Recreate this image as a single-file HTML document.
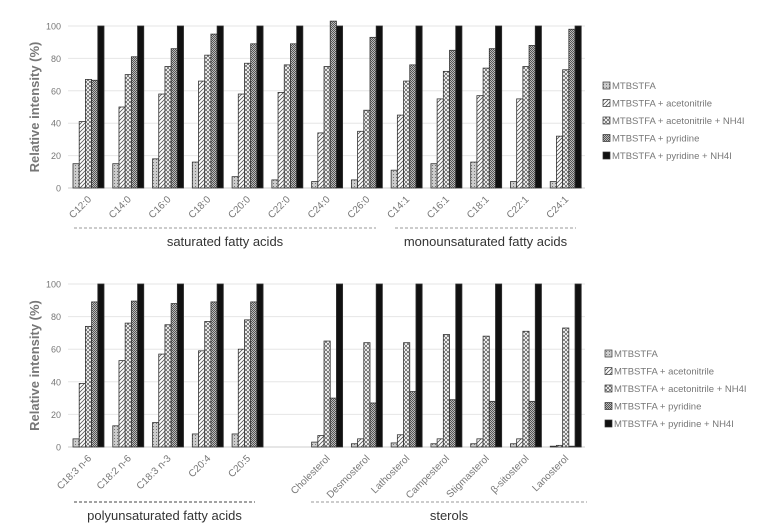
<!DOCTYPE html>
<html><head><meta charset="utf-8"><style>
body{margin:0;background:#fff;font-family:"Liberation Sans",sans-serif}
svg{display:block}
</style></head><body>
<svg id="chart" width="770" height="529" xmlns="http://www.w3.org/2000/svg">
<defs>
<pattern id="p0" width="3" height="3" patternUnits="userSpaceOnUse"><rect width="3" height="3" fill="#ccc"/><rect width="1" height="1" fill="#777"/></pattern>
<pattern id="p1" width="4" height="4" patternUnits="userSpaceOnUse"><rect width="4" height="4" fill="#fff"/><path d="M0,4L4,0M-1,1L1,-1M3,5L5,3" stroke="#555" stroke-width="0.8"/></pattern>
<pattern id="p2" width="4" height="4" patternUnits="userSpaceOnUse"><rect width="4" height="4" fill="#fff"/><path d="M0,4L4,0M0,0L4,4" stroke="#555" stroke-width="0.7"/></pattern>
<pattern id="p3" width="2" height="2" patternUnits="userSpaceOnUse"><rect width="2" height="2" fill="#bbb"/><rect width="1" height="1" fill="#555"/><rect x="1" y="1" width="1" height="1" fill="#555"/></pattern>
</defs>
</svg>
<script>
const seriesNames=["MTBSTFA","MTBSTFA + acetonitrile","MTBSTFA + acetonitrile + NH4I","MTBSTFA + pyridine","MTBSTFA + pyridine + NH4I"];
const topCategories=["C12:0","C14:0","C16:0","C18:0","C20:0","C22:0","C24:0","C26:0","C14:1","C16:1","C18:1","C22:1","C24:1"];
const topS1=[15,15,18,16,7,5,4,5,11,15,16,4,4];
const topS2=[41,50,58,66,58,59,34,35,45,55,57,55,32];
const topS3=[67,70,75,82,77,76,75,48,66,72,74,75,73];
const topS4=[66.5,81,86,95,89,89,103,93,76,85,86,88,98];
const topS5=[100,100,100,100,100,100,100,100,100,100,100,100,100];
const botCategories=["C18:3 n-6","C18:2 n-6","C18:3 n-3","C20:4","C20:5","","Cholesterol","Desmosterol","Lathosterol","Campesterol","Stigmasterol","β-sitosterol","Lanosterol"];
const botS1=[5,13,15,8,8,null,3,2,2.5,2,2,2,0.5];
const botS2=[39,53,57,59,60,null,7,5,7.5,5,5,5,1];
const botS3=[74,76,75,77,78,null,65,64,64,69,68,71,73];
const botS4=[89,89.5,88,89,89,null,30,27,34,29,28,28,0.5];
const botS5=[100,100,100,100,100,null,100,100,100,100,100,100,100];
const yTicks=[0,20,40,60,80,100];
const fills=["url(#p0)","url(#p1)","url(#p2)","url(#p3)","#111"];
const svg=document.getElementById('chart');
const NS="http://www.w3.org/2000/svg";
function mk(t,a,p){const e=document.createElementNS(NS,t);for(const k in a)e.setAttribute(k,a[k]);(p||svg).appendChild(e);return e;}
function drawChart(cfg){
  const x0=68,x1=585,y100=cfg.y100,y0=cfg.y0;
  const bw=(x1-x0)/cfg.cats.length;
  const ys=v=>y0-(v/100)*(y0-y100);
  const g=mk('g',{});
  
  
  yTicks.forEach(t=>{
    const l=mk('line',{x1:x0,x2:x1,y1:ys(t),y2:ys(t),stroke:t===0?'#ccc':'#e6e6e6','stroke-width':1},g);
    
    
    const tx=mk('text',{x:61,y:ys(t)+3.5,'text-anchor':'end','font-size':9,fill:'#777'},g);
    tx.textContent=t;
    
    
  });
  const yt=mk('text',{x:0,y:0,'text-anchor':'middle','font-size':13,'font-weight':'bold',fill:'#777',transform:`translate(39,${(y0+y100)/2}) rotate(-90)`},g);
  yt.textContent='Relative intensity (%)';
  
  
  cfg.cats.forEach((c,i)=>{
    const bx=x0+i*bw+5;
    cfg.series.forEach((s,j)=>{
      const v=s[i]; if(v==null)return;
      const r=mk('rect',{x:bx+j*6.2,y:ys(v),width:6.2,height:y0-ys(v),fill:fills[j],stroke:'#333','stroke-width':0.8},g);
      
      
    });
    if(c){
      const cx=x0+i*bw+bw/2+4;
      const t=mk('text',{x:0,y:0,'text-anchor':'end','font-size':10,fill:'#777',transform:`translate(${cx},${y0+12}) rotate(-45)`},g);
      t.textContent=c;
      
      
    }
  });
  cfg.groups.forEach(gr=>{
    const l=mk('line',{x1:gr.a,x2:gr.b,y1:gr.ly,y2:gr.ly,stroke:gr.dark?'#444':'#999','stroke-dasharray':'3,2','stroke-width':1},g);
    
    
    const t=mk('text',{x:(gr.a+gr.b)/2,y:gr.ly+18,'text-anchor':'middle','font-size':13,fill:'#333'},g);
    t.textContent=gr.label;
    
    
  });
  seriesNames.forEach((n,j)=>{
    const yy=cfg.legY+j*17.5;
    const r=mk('rect',{x:cfg.legX,y:yy-7,width:7,height:7,fill:fills[j],stroke:'#333','stroke-width':0.7},g);
    
    
    const t=mk('text',{x:cfg.legX+9,y:yy,'font-size':9.5,fill:'#777'},g);
    t.textContent=n;
    
    
  });
}
drawChart({name:'top-chart',cats:topCategories,series:[topS1,topS2,topS3,topS4,topS5],y100:26,y0:188,legX:603,legY:89,
  groups:[{a:74,b:376,ly:228,label:'saturated fatty acids'},{a:395,b:576,ly:228,label:'monounsaturated fatty acids'}]});
drawChart({name:'bottom-chart',cats:botCategories,series:[botS1,botS2,botS3,botS4,botS5],y100:284,y0:447,legX:605,legY:357,
  groups:[{a:74,b:255,ly:502,label:'polyunsaturated fatty acids',dark:true},{a:311,b:587,ly:502,label:'sterols'}]});
</script>
</body></html>
